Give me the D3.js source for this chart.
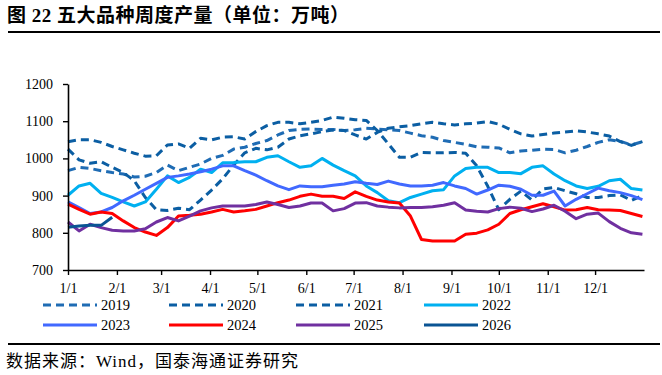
<!DOCTYPE html>
<html>
<head>
<meta charset="utf-8">
<script src="https://cdn.jsdelivr.net/npm/d3@7"></script>
<style>
  body { margin: 0; background: #fff; }
  svg { display: block; }
</style>
</head>
<body>
<div id="chart"></div>
<script>
// weekly output, 10k tonnes, one value per week from 1/1
const years = ["2019", "2020", "2021", "2022", "2023", "2024", "2025", "2026"];
const s2019 = [967, 976, 973, 967, 962, 958, 950, 952, 962, 982, 967, 976, 985, 1000, 1008, 1025, 1030, 1040, 1048, 1063, 1075, 1078, 1079, 1078, 1078, 1075, 1077, 1081, 1079, 1077, 1075, 1068, 1061, 1057, 1048, 1043, 1038, 1031, 1030, 1028, 1015, 1020, 1022, 1025, 1024, 1015, 1022, 1032, 1043, 1050, 1046, 1036, 1045];
const s2020 = [1025, 996, 987, 991, 976, 962, 940, 895, 862, 860, 866, 862, 888, 915, 945, 982, 1015, 1027, 1023, 1030, 1052, 1061, 1066, 1072, 1076, 1075, 1063, 1052, 1070, 1081, 1085, 1088, 1093, 1097, 1093, 1090, 1093, 1095, 1099, 1092, 1078, 1066, 1060, 1064, 1068, 1071, 1074, 1071, 1066, 1060, 1045, 1035, 1045];
const s2021 = [1045, 1050, 1050, 1043, 1032, 1023, 1014, 1006, 1007, 1036, 1039, 1027, 1054, 1050, 1057, 1058, 1052, 1072, 1088, 1097, 1097, 1093, 1097, 1102, 1111, 1108, 1104, 1102, 1075, 1039, 1003, 1003, 1016, 1015, 1015, 1016, 1014, 980, 925, 862, 890, 912, 888, 918, 922, 913, 905, 895, 895, 900, 902, 887, 900];
const s2022 = [901, 926, 933, 906, 895, 883, 872, 883, 917, 953, 935, 949, 971, 962, 988, 989, 991, 991, 1003, 1007, 991, 976, 980, 1000, 982, 967, 953, 926, 908, 886, 881, 895, 904, 913, 916, 953, 973, 976, 976, 962, 962, 959, 976, 980, 958, 940, 926, 919, 925, 940, 944, 919, 915];
const s2023 = [883, 868, 852, 856, 868, 886, 901, 917, 933, 949, 953, 958, 964, 971, 980, 980, 967, 955, 940, 926, 916, 926, 924, 924, 928, 931, 937, 933, 930, 939, 931, 926, 926, 928, 935, 926, 919, 904, 915, 928, 925, 917, 901, 901, 912, 872, 890, 905, 920, 913, 908, 900, 889];
const s2024 = [877, 863, 850, 856, 852, 832, 814, 802, 793, 814, 845, 847, 850, 856, 863, 856, 859, 863, 872, 881, 888, 898, 904, 898, 898, 892, 910, 898, 888, 883, 880, 845, 782, 778, 778, 778, 796, 799, 808, 823, 852, 862, 870, 878, 870, 861, 862, 868, 862, 861, 860, 852, 844];
const s2025 = [829, 805, 823, 814, 807, 805, 805, 811, 829, 841, 832, 845, 859, 867, 872, 872, 872, 876, 883, 876, 868, 872, 880, 880, 859, 865, 880, 881, 872, 869, 867, 868, 868, 870, 874, 881, 861, 858, 856, 865, 869, 866, 857, 864, 874, 858, 838, 850, 853, 830, 812, 800, 796];
const s2026 = [815, 818, 820, 820, 842];
const seriesValues = [s2019, s2020, s2021, s2022, s2023, s2024, s2025, s2026];
const yTicks = [700, 800, 900, 1000, 1100, 1200];
const monthLabels = ["1/1", "2/1", "3/1", "4/1", "5/1", "6/1", "7/1", "8/1", "9/1", "10/1", "11/1", "12/1"];

const colors = ["#1f6cb4", "#0b5ea3", "#0b5ea3", "#00b0f0", "#4169ff", "#ff0000", "#7030a0", "#0a5494"];
const dashed = [true, true, true, false, false, false, false, false];

const W = 662, H = 375;
const svg = d3.select("#chart").append("svg").attr("width", W).attr("height", H);
const serif = "'Liberation Serif', 'Times New Roman', serif";
const cjk = "'Liberation Serif', 'Noto Sans CJK SC', sans-serif";

// title
svg.append("text").attr("x", 7).attr("y", 22)
  .attr("font-family", cjk).attr("font-weight", "bold").attr("font-size", 19)
  .attr("letter-spacing", 0.5)
  .text("图 22 五大品种周度产量（单位：万吨）");
svg.append("line").attr("x1", 8).attr("x2", 660).attr("y1", 32).attr("y2", 32)
  .attr("stroke", "#000").attr("stroke-width", 1.8);

// scales: calendar position within one year
const t0 = new Date(Date.UTC(2023, 0, 1));
const t1 = new Date(Date.UTC(2024, 0, 1));
const x = d3.scaleUtc().domain([t0, t1]).range([68, 644]);
const y = d3.scaleLinear().domain([700, 1200]).range([270, 84]);
const weekDate = i => d3.utcDay.offset(t0, i * 7);

const g = svg.append("g");

const line = d3.line()
  .x((d, i) => x(weekDate(i)))
  .y(d => y(d));

years.forEach((yr, k) => {
  g.append("path")
    .datum(seriesValues[k])
    .attr("fill", "none")
    .attr("stroke", colors[k])
    .attr("stroke-width", 3)
    .attr("stroke-linejoin", "round")
    .attr("stroke-dasharray", dashed[k] ? "8,5" : null)
    .attr("d", line);
});

// axes
const yAxis = d3.axisLeft(y).tickValues(yTicks).tickSize(5).tickSizeOuter(0).tickPadding(10)
  .tickFormat(d3.format("d"));
const gy = svg.append("g").attr("transform", "translate(68,0)").call(yAxis);
const xAxis = d3.axisBottom(x).ticks(d3.utcMonth.every(1)).tickSize(5).tickSizeOuter(0).tickPadding(8)
  .tickFormat((d, i) => monthLabels[i]);
const gx = svg.append("g").attr("transform", "translate(0,270)").call(xAxis);
[gx, gy].forEach(a => {
  a.select(".domain").attr("stroke", "#000").attr("stroke-width", 1.6);
  a.selectAll(".tick line").attr("stroke", "#000").attr("stroke-width", 1.4);
  a.selectAll("text").attr("font-family", serif).attr("font-size", 14).attr("fill", "#000");
});
gx.selectAll(".tick").filter(d => +d >= +t1).remove();

// legend
const legCols = [43, 169, 296, 424];
const legRows = [305, 325];
const leg = svg.append("g");
years.forEach((yr, k) => {
  const lx = legCols[k % 4], ly = legRows[Math.floor(k / 4)];
  leg.append("line").attr("x1", lx).attr("x2", lx + 54).attr("y1", ly).attr("y2", ly)
    .attr("stroke", colors[k]).attr("stroke-width", 3)
    .attr("stroke-dasharray", dashed[k] ? "8,5" : null);
  leg.append("text").attr("x", lx + 58).attr("y", ly + 5)
    .attr("font-family", serif).attr("font-size", 14.5).text(yr);
});

// footer
svg.append("line").attr("x1", 8).attr("x2", 660).attr("y1", 344).attr("y2", 344)
  .attr("stroke", "#000").attr("stroke-width", 1.8);
svg.append("text").attr("x", 6).attr("y", 367)
  .attr("font-family", cjk).attr("font-size", 17).attr("letter-spacing", 1)
  .text("数据来源：Wind，国泰海通证券研究");
</script>
</body>
</html>
